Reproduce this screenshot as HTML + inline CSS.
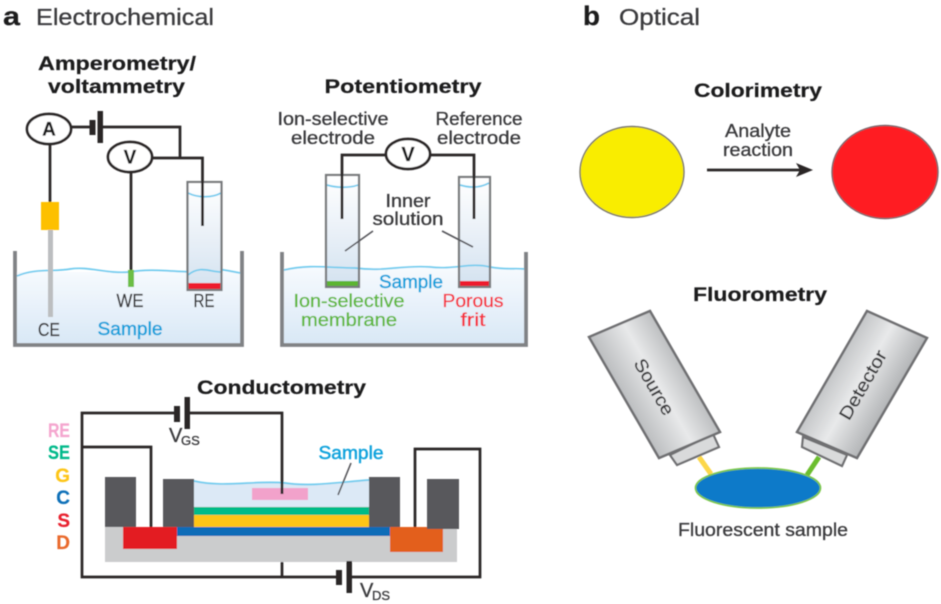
<!DOCTYPE html>
<html><head><meta charset="utf-8"><style>
html,body{margin:0;padding:0;background:#fff}
svg{display:block}
text{font-family:"Liberation Sans",sans-serif;color:#3a3a3c;fill:currentColor;stroke:currentColor;stroke-width:.3}
.b{font-weight:bold;color:#1a1a1c;stroke-width:.2}
.w{fill:none;stroke:#2a2628;stroke-width:2.7}
.g{fill:none;stroke:#77797c;stroke-width:2.2}
.bk{fill:none;stroke:#808285;stroke-width:3.8}
.wv{fill:none;stroke:#6fcbee;stroke-width:1.7}
.ci{fill:#fff;stroke:#2a2628;stroke-width:2.7}
.l{font-size:18px}
.s{color:#0ea2dc;stroke-width:.45}
</style></head><body>
<svg width="941" height="604" viewBox="0 0 941 604" xmlns="http://www.w3.org/2000/svg">
<defs>
<linearGradient id="wa" x1="0" y1="0" x2="0" y2="1"><stop offset="0" stop-color="#f6fafe"/><stop offset="1" stop-color="#d9e8f6"/></linearGradient>
<linearGradient id="tu" x1="0" y1="0" x2="0" y2="1"><stop offset="0" stop-color="#fff"/><stop offset="1" stop-color="#d4e2f0"/></linearGradient>
<linearGradient id="m1" gradientUnits="userSpaceOnUse" x1="624" y1="395" x2="685" y2="360"><stop offset="0" stop-color="#bdbfc1"/><stop offset=".5" stop-color="#e8e9ea"/><stop offset="1" stop-color="#b5b7b9"/></linearGradient>
<linearGradient id="m2" gradientUnits="userSpaceOnUse" x1="832" y1="360" x2="892" y2="395"><stop offset="0" stop-color="#bdbfc1"/><stop offset=".5" stop-color="#e8e9ea"/><stop offset="1" stop-color="#b5b7b9"/></linearGradient>
<filter id="bl" x="-2%" y="-2%" width="104%" height="104%"><feGaussianBlur stdDeviation="0.5"/></filter>
</defs>
<g filter="url(#bl)">
<text x="3" y="25" class="b" font-size="26" textLength="17" lengthAdjust="spacingAndGlyphs">a</text>
<text x="36" y="25" font-size="23" textLength="178" lengthAdjust="spacingAndGlyphs">Electrochemical</text>
<text x="38" y="70" class="b" font-size="19" textLength="158" lengthAdjust="spacingAndGlyphs">Amperometry/</text>
<text x="48" y="93" class="b" font-size="19" textLength="137" lengthAdjust="spacingAndGlyphs">voltammetry</text>

<!-- Amperometry -->
<path d="M17 272 L17 343 L240 343 L240 272 Z" fill="url(#wa)" stroke="none"/>
<path d="M17 276 C35 268 55 272 70 269 C90 266 105 274 130 272 C150 268 175 272 195 272 C205 266 215 268 240 273" class="wv"/>
<rect x="188" y="183" width="33.500" height="106" fill="url(#tu)"/>
<path d="M188 193 C198 198 212 198 221 193" class="wv"/>
<path d="M188 275 C200 265 210 272 221 272" class="wv"/>
<rect x="188" y="283" width="33.500" height="7" fill="#ee1c2e"/>
<rect x="187.500" y="182" width="34" height="108" class="g"/>
<path d="M15 251 V345 H242 V251" class="bk"/>
<rect x="48" y="230" width="5" height="87" fill="#bcbec0"/>
<rect x="41" y="202" width="18" height="28" fill="#fdc000"/>
<rect x="128" y="270" width="6" height="17" fill="#6cbe45"/>
<path d="M50 144 V202" class="w"/>
<path d="M131 172 V270" class="w"/>
<path d="M71 127 H92 M100 127 H180 V158 M152 158 H202.500 V226" class="w"/>
<rect x="89.500" y="120" width="6" height="15" fill="#2a2628"/>
<rect x="97.500" y="111" width="5.500" height="32" fill="#2a2628"/>
<ellipse cx="49" cy="129" rx="22" ry="15" class="ci"/>
<ellipse cx="130" cy="157" rx="22" ry="15" class="ci"/>
<text x="49" y="135.500" class="b" font-size="19" text-anchor="middle">A</text>
<text x="130" y="163.500" class="b" font-size="19" text-anchor="middle">V</text>
<text x="130" y="307" class="l" text-anchor="middle" textLength="27" lengthAdjust="spacingAndGlyphs">WE</text>
<text x="204" y="307" class="l" text-anchor="middle" textLength="21" lengthAdjust="spacingAndGlyphs">RE</text>
<text x="49" y="336" class="l" text-anchor="middle" textLength="22" lengthAdjust="spacingAndGlyphs">CE</text>
<text x="130" y="335" class="l s" text-anchor="middle" textLength="65" lengthAdjust="spacingAndGlyphs">Sample</text>

<!-- Potentiometry -->
<text x="403" y="93" class="b" font-size="19" text-anchor="middle" textLength="157" lengthAdjust="spacingAndGlyphs">Potentiometry</text>
<path d="M284 268 L284 343 L524 343 L524 268 Z" fill="url(#wa)"/>
<rect x="327" y="176" width="32" height="110" fill="url(#tu)"/>
<rect x="460" y="178" width="30" height="108" fill="url(#tu)"/>
<path d="M284 270 C310 264 330 268 355 268 C385 272 400 265 430 267 C455 270 470 262 490 267 C505 270 515 268 524 269" class="wv"/>
<path d="M327 185 C337 188 350 188 358 185" class="wv"/>
<path d="M460 185 C470 188 480 188 489 183" class="wv"/>
<rect x="327" y="281" width="31" height="6.500" fill="#5cb531"/>
<rect x="460" y="281" width="29" height="6.500" fill="#ee1c2e"/>
<rect x="326" y="175" width="33" height="112" class="g"/>
<rect x="459" y="177" width="31" height="110" class="g"/>
<path d="M282 252 V345 H526 V252" class="bk"/>
<path d="M342 219 V155 H386 M430 155 H474 V219" class="w"/>
<ellipse cx="408" cy="154" rx="22" ry="15" class="ci"/>
<text x="408" y="161" class="b" font-size="20" text-anchor="middle">V</text>
<text x="333" y="125" class="l" text-anchor="middle" textLength="111" lengthAdjust="spacingAndGlyphs">Ion-selective</text>
<text x="333" y="144" class="l" text-anchor="middle" textLength="84" lengthAdjust="spacingAndGlyphs">electrode</text>
<text x="479" y="125" class="l" text-anchor="middle" textLength="87" lengthAdjust="spacingAndGlyphs">Reference</text>
<text x="479" y="144" class="l" text-anchor="middle" textLength="84" lengthAdjust="spacingAndGlyphs">electrode</text>
<text x="408" y="207" class="l" text-anchor="middle" textLength="45" lengthAdjust="spacingAndGlyphs">Inner</text>
<text x="408" y="225" class="l" text-anchor="middle" textLength="71" lengthAdjust="spacingAndGlyphs">solution</text>
<path d="M373 231 L345 251 M442 231 L473 247" fill="none" stroke="#55555a" stroke-width="1.600"/>
<text x="411" y="288" class="l s" text-anchor="middle" textLength="64" lengthAdjust="spacingAndGlyphs">Sample</text>
<text x="349" y="307" class="l" text-anchor="middle" style="color:#5fb83c" textLength="111" lengthAdjust="spacingAndGlyphs">Ion-selective</text>
<text x="349" y="326" class="l" text-anchor="middle" style="color:#5fb83c" textLength="96" lengthAdjust="spacingAndGlyphs">membrane</text>
<text x="473" y="307" class="l" text-anchor="middle" style="color:#f5333f" textLength="61" lengthAdjust="spacingAndGlyphs">Porous</text>
<text x="473" y="326" class="l" text-anchor="middle" style="color:#f5333f" textLength="25" lengthAdjust="spacingAndGlyphs">frit</text>

<!-- Conductometry -->
<text x="197" y="394" class="b" font-size="19" textLength="169" lengthAdjust="spacingAndGlyphs">Conductometry</text>
<text x="70" y="437" class="b" font-size="19" text-anchor="end" style="color:#f4a6cf" textLength="22" lengthAdjust="spacingAndGlyphs">RE</text>
<text x="70" y="459" class="b" font-size="19" text-anchor="end" style="color:#00b98a" textLength="22" lengthAdjust="spacingAndGlyphs">SE</text>
<text x="70" y="482" class="b" font-size="19" text-anchor="end" style="color:#fdc516">G</text>
<text x="70" y="504" class="b" font-size="19" text-anchor="end" style="color:#0a6fb8">C</text>
<text x="70" y="527" class="b" font-size="19" text-anchor="end" style="color:#e8202e">S</text>
<text x="70" y="549" class="b" font-size="19" text-anchor="end" style="color:#e9692c">D</text>
<rect x="105" y="527" width="352" height="35" fill="#cbcccd"/>
<path d="M194 482 C230 486 260 480 290 483 C310 486 340 481 369 481 V507 H194 Z" fill="#dce9f6"/>
<path d="M194 481 C225 488 255 480 285 483 C310 487 340 482 369 480" class="wv"/>
<rect x="252" y="488" width="56" height="12" fill="#f2a2cb"/>
<rect x="194" y="507" width="175" height="8" fill="#00bb88"/>
<rect x="194" y="515" width="175" height="12" fill="#fdc513"/>
<rect x="177" y="527" width="213" height="9" fill="#0a6cb8"/>
<rect x="123" y="527" width="54" height="22" fill="#e31b23"/>
<rect x="390" y="527" width="53" height="25" fill="#e35f1c"/>
<rect x="105" y="477" width="31" height="50" fill="#58595b"/>
<rect x="163" y="479" width="31" height="48" fill="#58595b"/>
<rect x="369" y="477" width="31" height="50" fill="#58595b"/>
<rect x="427" y="479" width="32" height="50" fill="#58595b"/>
<path d="M177 413 H82 V577 H339 M349 577 H480 V449 H415 V527 M187 413 H282 V494 M82 447 H151 V527 M282 562 V577" class="w"/>
<rect x="174" y="406" width="6" height="16" fill="#2a2628"/>
<rect x="184.500" y="397" width="5.500" height="32" fill="#2a2628"/>
<rect x="336" y="570" width="6" height="15" fill="#2a2628"/>
<rect x="346.500" y="561" width="5.500" height="32" fill="#2a2628"/>
<text x="169" y="442" font-size="20">V</text><text x="181" y="445" font-size="13">GS</text>
<text x="360" y="597" font-size="20">V</text><text x="372" y="600" font-size="13">DS</text>
<text x="351" y="459" class="l s" text-anchor="middle" textLength="65" lengthAdjust="spacingAndGlyphs">Sample</text>
<path d="M351 463 L338 495" fill="none" stroke="#55555a" stroke-width="1.600"/>

<!-- Optical -->
<text x="583" y="25" class="b" font-size="27" textLength="17" lengthAdjust="spacingAndGlyphs">b</text>
<text x="619" y="25" font-size="23" textLength="81" lengthAdjust="spacingAndGlyphs">Optical</text>
<text x="758" y="97" class="b" font-size="19" text-anchor="middle" textLength="128" lengthAdjust="spacingAndGlyphs">Colorimetry</text>
<ellipse cx="632" cy="172" rx="52" ry="45.500" fill="#f9ed00" stroke="#77756a" stroke-width="1.400"/>
<ellipse cx="885" cy="172" rx="53" ry="46.500" fill="#ff1a24" stroke="#77656a" stroke-width="1.400"/>
<text x="758" y="137" class="l" text-anchor="middle" textLength="66" lengthAdjust="spacingAndGlyphs">Analyte</text>
<text x="758" y="156" class="l" text-anchor="middle" textLength="70" lengthAdjust="spacingAndGlyphs">reaction</text>
<path d="M707 170 H800" fill="none" stroke="#2a2628" stroke-width="2.700"/>
<path d="M813 170 L796 163 L800 170 L796 177 Z" fill="#2a2628"/>

<text x="760" y="301" class="b" font-size="19" text-anchor="middle" textLength="134" lengthAdjust="spacingAndGlyphs">Fluorometry</text>
<path d="M699 457 L711 474" stroke="#fcd748" stroke-width="5" fill="none"/>
<path d="M819 457 L807 475" stroke="#6cbe2d" stroke-width="5" fill="none"/>
<polygon points="670,455 713,434 719,447 677,465" fill="#d9dadb" stroke="#6f7072" stroke-width="2.200"/>
<polygon points="589,337 650,311 720,432 659,458" fill="url(#m1)" stroke="#6f7072" stroke-width="2.500"/>
<polygon points="803,437 847,455 842,466 802,447" fill="#d9dadb" stroke="#6f7072" stroke-width="2.200"/>
<polygon points="867,311 927,338 857,458 797,432" fill="url(#m2)" stroke="#6f7072" stroke-width="2.500"/>
<text transform="translate(654 387) rotate(60)" x="0" y="6" class="l" text-anchor="middle" textLength="62" lengthAdjust="spacingAndGlyphs">Source</text>
<text transform="translate(863 385) rotate(-60)" x="0" y="6" class="l" text-anchor="middle" textLength="77" lengthAdjust="spacingAndGlyphs">Detector</text>
<ellipse cx="758" cy="488" rx="62.500" ry="20" fill="#0a7ac9" stroke="#7cc84a" stroke-width="1.700"/>
<text x="763" y="536" class="l" text-anchor="middle" textLength="170" lengthAdjust="spacingAndGlyphs">Fluorescent sample</text>
</g>
</svg>
</body></html>
